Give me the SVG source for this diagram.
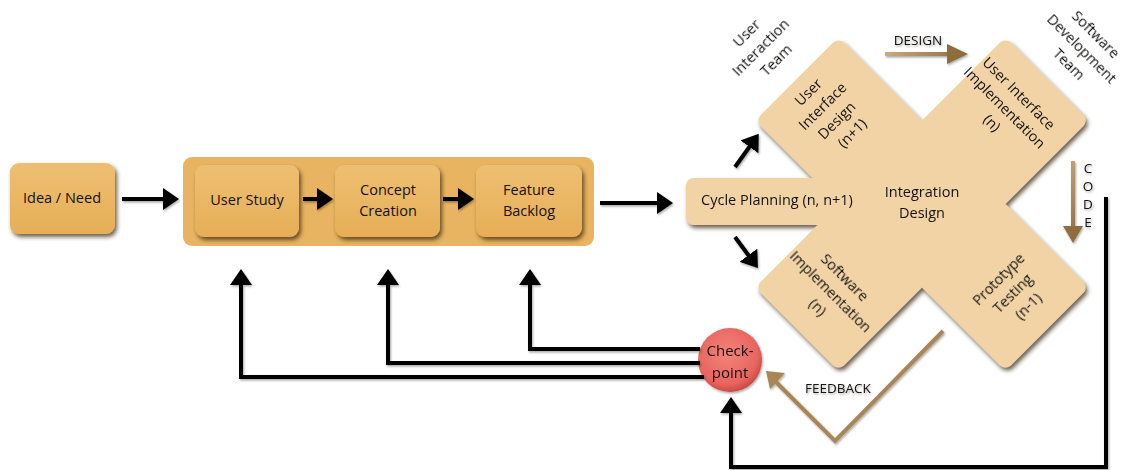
<svg xmlns="http://www.w3.org/2000/svg" width="1123" height="470" viewBox="0 0 1123 470">
  <style>
    text { font-family: "Open Sans", "Liberation Sans", sans-serif; fill: #141210; }
    .lbl { font-size: 14.5px; text-anchor: middle; }
    .small { font-size: 13.5px; text-anchor: middle; }
    .orange { fill: url(#orangeFill); }
    .tan { fill: #f1d3a6; }
    .wire { fill: none; stroke: #000; stroke-width: 4; }
  </style>
  <defs>
    <linearGradient id="orangeFill" x1="0" y1="0" x2="0" y2="1">
      <stop offset="0" stop-color="#eebf72"/>
      <stop offset="1" stop-color="#e6ae57"/>
    </linearGradient>
    <linearGradient id="designStroke" gradientUnits="userSpaceOnUse" x1="885" y1="0" x2="968" y2="0">
      <stop offset="0" stop-color="#c9aa7a"/>
      <stop offset="1" stop-color="#8e6c3e"/>
    </linearGradient>
    <linearGradient id="codeStroke" gradientUnits="userSpaceOnUse" x1="0" y1="161" x2="0" y2="243">
      <stop offset="0" stop-color="#c0a070"/>
      <stop offset="1" stop-color="#8e6c3e"/>
    </linearGradient>
    <radialGradient id="redFill" cx="0.45" cy="0.4" r="0.6">
      <stop offset="0" stop-color="#f3837b"/>
      <stop offset="0.8" stop-color="#e8655e"/>
      <stop offset="1" stop-color="#c94a45"/>
    </radialGradient>
    <filter id="shadow" x="-10%" y="-10%" width="130%" height="130%">
      <feDropShadow dx="2" dy="3" stdDeviation="2" flood-color="#3a2508" flood-opacity="0.75"/>
    </filter>
    <filter id="softShadow" x="-10%" y="-10%" width="130%" height="130%">
      <feDropShadow dx="1" dy="1.5" stdDeviation="1" flood-color="#000" flood-opacity="0.35"/>
    </filter>
    <marker id="head" viewBox="0 0 16 22" markerWidth="16" markerHeight="22" refX="1" refY="11" orient="auto" markerUnits="userSpaceOnUse">
      <path d="M0,0 L16,11 L0,22 z" fill="#000"/>
    </marker>
  </defs>

  <!-- idea / need -->
  <g id="idea-need">
    <rect class="orange" x="10" y="163" width="105" height="71" rx="9" filter="url(#shadow)"/>
    <text class="lbl" x="62" y="203">Idea / Need</text>
  </g>

  <!-- front-end phase container -->
  <g id="front-end">
    <rect x="183" y="157" width="411" height="89" rx="9" fill="#e9b462"/>
  </g>
  <g id="user-study">
    <rect class="orange" x="195" y="165" width="104" height="72" rx="9" filter="url(#shadow)"/>
    <text class="lbl" x="247" y="205">User Study</text>
  </g>
  <g id="concept-creation">
    <rect class="orange" x="335" y="165" width="105" height="72" rx="9" filter="url(#shadow)"/>
    <text class="lbl" x="388" y="195">Concept</text>
    <text class="lbl" x="388" y="216">Creation</text>
  </g>
  <g id="feature-backlog">
    <rect class="orange" x="476" y="165" width="106" height="72" rx="9" filter="url(#shadow)"/>
    <text class="lbl" x="529" y="195">Feature</text>
    <text class="lbl" x="529" y="216">Backlog</text>
  </g>

  <!-- iteration cross: planning bar plus two crossed bands -->
  <g id="iteration-cross">
    <g filter="url(#shadow)">
      <rect class="tan" x="686" y="178" width="170" height="47" rx="8"/>
      <rect class="tan" x="-177" y="-59" width="354" height="118" rx="8" transform="translate(922,204) rotate(45)"/>
      <rect class="tan" x="-177" y="-59" width="354" height="118" rx="8" transform="translate(922,204) rotate(-45)"/>
    </g>
    <text class="lbl" x="777" y="205">Cycle Planning (n, n+1)</text>
    <text class="lbl" x="922" y="197">Integration</text>
    <text class="lbl" x="922" y="218">Design</text>
    <text class="lbl" transform="translate(831,112) rotate(-45)">
      <tspan x="0" y="-25">User</tspan>
      <tspan x="0" y="-5">Interface</tspan>
      <tspan x="0" y="15">Design</tspan>
      <tspan x="0" y="35">(n+1)</tspan>
    </text>
    <text class="lbl" transform="translate(1006,109) rotate(45)">
      <tspan x="0" y="-15">User Interface</tspan>
      <tspan x="0" y="5">Implementation</tspan>
      <tspan x="0" y="25">(n)</tspan>
    </text>
    <text class="lbl" transform="translate(832,293) rotate(45)">
      <tspan x="0" y="-15">Software</tspan>
      <tspan x="0" y="5">Implementation</tspan>
      <tspan x="0" y="25">(n)</tspan>
    </text>
    <text class="lbl" transform="translate(1014,292) rotate(-45)">
      <tspan x="0" y="-15">Prototype</tspan>
      <tspan x="0" y="5">Testing</tspan>
      <tspan x="0" y="25">(n-1)</tspan>
    </text>
  </g>

  <!-- team labels -->
  <g id="team-labels">
    <text class="lbl" transform="translate(762,46) rotate(-45)">
      <tspan x="0" y="-15">User</tspan>
      <tspan x="0" y="5">Interaction</tspan>
      <tspan x="0" y="25">Team</tspan>
    </text>
    <text class="lbl" transform="translate(1083,50) rotate(45)">
      <tspan x="0" y="-15">Software</tspan>
      <tspan x="0" y="5">Development</tspan>
      <tspan x="0" y="25">Team</tspan>
    </text>
  </g>

  <!-- checkpoint -->
  <g id="checkpoint">
    <circle cx="730" cy="360" r="32" fill="url(#redFill)" filter="url(#softShadow)"/>
    <text class="lbl" x="730" y="356" style="font-size:15px">Check-</text>
    <text class="lbl" x="730" y="378" style="font-size:15px">point</text>
  </g>

  <!-- connectors -->
  <g id="connectors" filter="url(#softShadow)">
    <line class="wire" x1="122" y1="199" x2="164" y2="199" marker-end="url(#head)"/>
    <line class="wire" x1="303" y1="199" x2="318" y2="199" marker-end="url(#head)"/>
    <line class="wire" x1="443" y1="199" x2="459" y2="199" marker-end="url(#head)"/>
    <line class="wire" x1="600" y1="203" x2="658" y2="203" marker-end="url(#head)"/>
    <line class="wire" x1="735" y1="167" x2="750" y2="146" marker-end="url(#head)"/>
    <line class="wire" x1="735" y1="237" x2="749" y2="256" marker-end="url(#head)"/>

    <!-- checkpoint feedback to the front-end steps -->
    <polyline class="wire" points="700,349 530,349 530,284" marker-end="url(#head)"/>
    <polyline class="wire" points="700,363 388,363 388,284" marker-end="url(#head)"/>
    <polyline class="wire" points="704,377 241,377 241,284" marker-end="url(#head)"/>

    <!-- code loop back into the checkpoint -->
    <polyline class="wire" points="1106,197 1106,467 731,467 731,412" marker-end="url(#head)"/>

    <!-- design hand-off -->
    <line x1="885" y1="54" x2="950" y2="54" stroke="url(#designStroke)" stroke-width="4"/>
    <path d="M947,44 L968,54 L947,64 z" fill="#8e6c3e"/>
    <text class="small" x="918" y="45">DESIGN</text>

    <!-- code hand-off -->
    <line x1="1073" y1="161" x2="1073" y2="229" stroke="url(#codeStroke)" stroke-width="4"/>
    <path d="M1063,226 L1073,243 L1083,226 z" fill="#8e6c3e"/>
    <text class="small" x="1088" y="173">C</text>
    <text class="small" x="1088" y="191">O</text>
    <text class="small" x="1088" y="209">D</text>
    <text class="small" x="1088" y="227">E</text>

    <!-- feedback from testing -->
    <polyline points="943,331 835,441 776,382" fill="none" stroke="#a88655" stroke-width="4"/>
    <path d="M766,371 L785,373 L770,389 z" fill="#a88655"/>
    <text class="small" x="838" y="393">FEEDBACK</text>
  </g>
</svg>
